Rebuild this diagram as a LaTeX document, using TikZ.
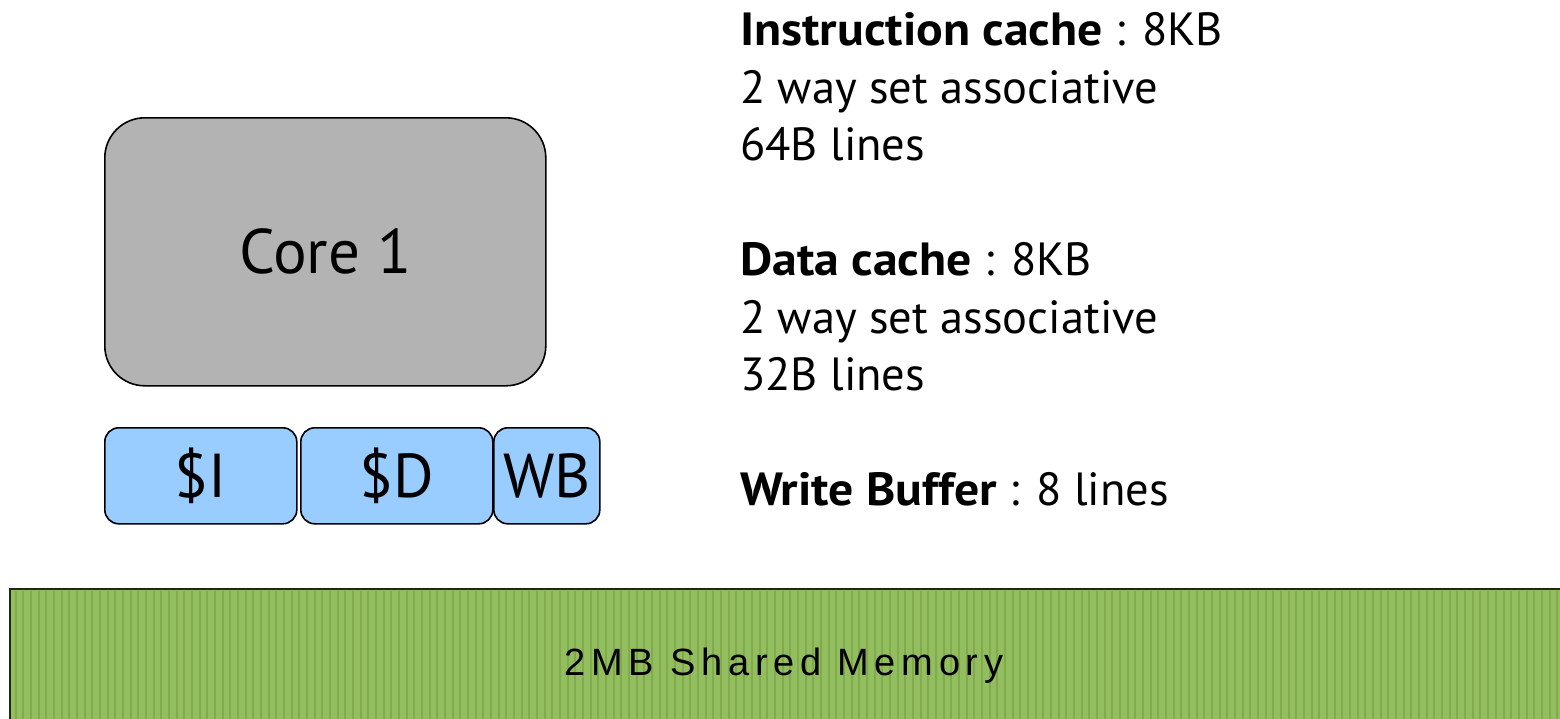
\documentclass[tikz,border=0pt]{standalone}
\usepackage{fontspec}
\setmainfont{PT Sans}[BoldFeatures={FakeStretch=1.07}]
\newfontfamily\memfont[LetterSpace=15]{Liberation Sans}
\definecolor{coregray}{HTML}{B3B3B3}
\definecolor{cacheblue}{HTML}{99CCFF}
\definecolor{memgreen}{HTML}{93BE5F}
\definecolor{memstripe}{HTML}{80AA4C}
\definecolor{memedge}{HTML}{1E2A12}
\tikzset{
  x=1pt, y=-1pt,
  corebox/.style={draw=black, line width=1.6pt, fill=coregray, rounded corners=40pt,
    minimum width=441pt, minimum height=268pt, anchor=north west,
    font=\fontsize{63}{65}\selectfont, inner sep=0pt},
  cachebox/.style={draw=black, line width=1.6pt, fill=cacheblue, rounded corners=14pt,
    minimum height=96pt, anchor=north west, inner sep=0pt,
    font=\fontsize{62}{64}\selectfont},
  infoline/.style={anchor=base west, inner sep=0pt, font=\fontsize{46.5}{48}\selectfont},
}
\begin{document}
\begin{tikzpicture}
\useasboundingbox (0,0) rectangle (1560,718);
\fill[white] (0,0) rectangle (1560,718);

% shared memory block with vertical ribbing
\fill[memgreen] (10,589) rectangle (1562,720);
\foreach \i in {0,...,202} {
  \draw[memstripe, line width=2pt] ({15.5+7.67*\i},591) -- ({15.5+7.67*\i},720);
}
\draw[memedge, line width=2.2pt] (10,720) -- (10,589) -- (1562,589);
\node[font=\memfont\fontsize{38}{40}\selectfont, anchor=base] (mem) at (784,675) {2MB Shared Memory};

% core and its private caches
\node[corebox] (core) at (104,117) {Core 1};
\node[cachebox, minimum width=192pt] (icache) at (104,427) {\$I};
\node[cachebox, minimum width=192pt] (dcache) at (300,427) {\$D};
\node[cachebox, minimum width=106pt] (wb) at (493,427) {WB};

% cache parameters
\node[infoline] (ic1) at (740,45) {\textbf{Instruction cache} : 8KB};
\node[infoline] (ic2) at (740,103) {2 way set associative};
\node[infoline] (ic3) at (740,160) {64B lines};
\node[infoline] (dc1) at (740,275) {\textbf{Data cache} : 8KB};
\node[infoline] (dc2) at (740,333) {2 way set associative};
\node[infoline] (dc3) at (740,390) {32B lines};
\node[infoline] (wb1) at (740,505) {\textbf{Write Buffer} : 8 lines};
\end{tikzpicture}
\end{document}
